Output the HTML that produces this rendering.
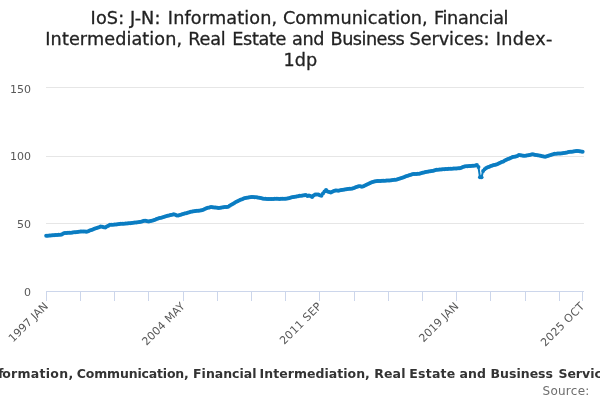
<!DOCTYPE html>
<html><head><meta charset="utf-8"><title>IoS: J-N chart</title>
<style>
html,body{margin:0;padding:0;background:#fff;}
body{width:600px;height:400px;overflow:hidden;}
svg{display:block;will-change:transform;font-family:"DejaVu Sans","Liberation Sans",Verdana,sans-serif;}
</style></head><body>
<svg width="600" height="400" viewBox="0 0 600 400">
<rect x="0" y="0" width="600" height="400" fill="#ffffff"/>
<g stroke="#e6e6e6" stroke-width="1" fill="none">
<path d="M 46 87.5 L 584 87.5"/><path d="M 46 156.5 L 584 156.5"/><path d="M 46 223.5 L 584 223.5"/><path d="M 46 291.5 L 584 291.5"/>
</g>
<g stroke="#ccd6eb" stroke-width="1" fill="none">
<path d="M 46 291.5 L 584 291.5"/><path d="M 46.5 291.5 L 46.5 301"/><path d="M 80.5 291.5 L 80.5 301"/><path d="M 114.5 291.5 L 114.5 301"/><path d="M 148.5 291.5 L 148.5 301"/><path d="M 183.5 291.5 L 183.5 301"/><path d="M 217.5 291.5 L 217.5 301"/><path d="M 251.5 291.5 L 251.5 301"/><path d="M 285.5 291.5 L 285.5 301"/><path d="M 319.5 291.5 L 319.5 301"/><path d="M 354.5 291.5 L 354.5 301"/><path d="M 388.5 291.5 L 388.5 301"/><path d="M 422.5 291.5 L 422.5 301"/><path d="M 456.5 291.5 L 456.5 301"/><path d="M 490.5 291.5 L 490.5 301"/><path d="M 525.5 291.5 L 525.5 301"/><path d="M 559.5 291.5 L 559.5 301"/><path d="M 582.5 291.5 L 582.5 301"/>
</g>
<path d="M 46.20 235.79 L 47.75 235.67 L 49.31 235.55 L 50.86 235.44 L 52.42 235.32 L 53.97 235.20 L 55.53 235.09 L 57.08 234.97 L 58.64 234.83 L 60.19 234.65 L 61.75 234.38 L 63.30 233.60 L 64.86 232.98 L 66.41 232.90 L 67.97 232.82 L 69.52 232.73 L 71.08 232.65 L 72.63 232.52 L 74.19 232.34 L 75.74 232.15 L 77.30 231.96 L 78.85 231.78 L 80.41 231.59 L 81.96 231.40 L 83.52 231.50 L 85.07 231.60 L 86.62 231.70 L 88.18 231.16 L 89.73 230.60 L 91.29 230.02 L 92.84 229.44 L 94.40 228.86 L 95.95 228.28 L 97.51 227.70 L 99.06 227.13 L 100.62 226.55 L 102.17 226.63 L 103.73 227.22 L 105.28 227.53 L 106.84 226.60 L 108.39 225.66 L 109.95 224.73 L 111.50 224.75 L 113.06 224.79 L 114.61 224.62 L 116.17 224.42 L 117.72 224.21 L 119.28 224.00 L 120.83 223.85 L 122.39 223.76 L 123.94 223.66 L 125.49 223.57 L 127.05 223.46 L 128.60 223.30 L 130.16 223.13 L 131.71 222.97 L 133.27 222.80 L 134.82 222.62 L 136.38 222.43 L 137.93 222.25 L 139.49 222.06 L 141.04 221.70 L 142.60 221.26 L 144.15 220.82 L 145.71 220.68 L 147.26 221.37 L 148.82 221.48 L 150.37 221.07 L 151.93 220.66 L 153.48 220.23 L 155.04 219.65 L 156.59 219.07 L 158.15 218.55 L 159.70 218.09 L 161.26 217.63 L 162.81 217.16 L 164.36 216.70 L 165.92 216.23 L 167.47 215.82 L 169.03 215.45 L 170.58 215.08 L 172.14 214.71 L 173.69 214.34 L 175.25 214.71 L 176.80 215.54 L 178.36 215.48 L 179.91 215.02 L 181.47 214.55 L 183.02 214.08 L 184.58 213.62 L 186.13 213.15 L 187.69 212.69 L 189.24 212.23 L 190.80 211.85 L 192.35 211.56 L 193.91 211.26 L 195.46 210.98 L 197.02 210.82 L 198.57 210.65 L 200.13 210.47 L 201.68 210.14 L 203.23 209.81 L 204.79 209.01 L 206.34 208.19 L 207.90 207.74 L 209.45 207.40 L 211.01 207.06 L 212.56 207.17 L 214.12 207.38 L 215.67 207.59 L 217.23 207.80 L 218.78 207.99 L 220.34 207.75 L 221.89 207.51 L 223.45 207.28 L 225.00 207.08 L 226.56 206.88 L 228.11 206.64 L 229.67 205.74 L 231.22 204.85 L 232.78 203.88 L 234.33 202.91 L 235.89 202.00 L 237.44 201.21 L 239.00 200.41 L 240.55 199.70 L 242.10 199.15 L 243.66 198.59 L 245.21 198.03 L 246.77 197.76 L 248.32 197.50 L 249.88 197.25 L 251.43 196.99 L 252.99 196.99 L 254.54 197.13 L 256.10 197.27 L 257.65 197.41 L 259.21 197.63 L 260.76 198.04 L 262.32 198.44 L 263.87 198.73 L 265.43 198.83 L 266.98 198.92 L 268.54 199.01 L 270.09 199.09 L 271.65 199.01 L 273.20 198.92 L 274.76 198.83 L 276.31 198.82 L 277.87 198.85 L 279.42 198.89 L 280.97 198.87 L 282.53 198.82 L 284.08 198.78 L 285.64 198.73 L 287.19 198.57 L 288.75 198.17 L 290.30 197.77 L 291.86 197.37 L 293.41 196.98 L 294.97 196.70 L 296.52 196.42 L 298.08 196.14 L 299.63 195.87 L 301.19 195.66 L 302.74 195.47 L 304.30 195.29 L 305.85 195.10 L 307.41 196.10 L 308.96 195.52 L 310.52 195.96 L 312.07 197.00 L 313.63 195.46 L 315.18 194.57 L 316.74 194.45 L 318.29 194.52 L 319.84 195.14 L 321.40 195.70 L 322.95 193.39 L 324.51 191.59 L 326.06 190.10 L 327.62 191.45 L 329.17 192.01 L 330.73 192.43 L 332.28 191.83 L 333.84 191.10 L 335.39 190.52 L 336.95 190.44 L 338.50 190.67 L 340.06 190.36 L 341.61 189.97 L 343.17 189.64 L 344.72 189.42 L 346.28 189.21 L 347.83 189.00 L 349.39 188.79 L 350.94 188.68 L 352.50 188.56 L 354.05 188.11 L 355.61 187.30 L 357.16 186.71 L 358.71 186.20 L 360.27 186.25 L 361.82 186.65 L 363.38 186.15 L 364.93 185.53 L 366.49 184.85 L 368.04 184.06 L 369.60 183.26 L 371.15 182.56 L 372.71 182.09 L 374.26 181.62 L 375.82 181.16 L 377.37 181.04 L 378.93 180.97 L 380.48 180.90 L 382.04 180.83 L 383.59 180.76 L 385.15 180.69 L 386.70 180.62 L 388.26 180.55 L 389.81 180.44 L 391.37 180.24 L 392.92 180.04 L 394.48 179.84 L 396.03 179.64 L 397.58 179.14 L 399.14 178.64 L 400.69 178.14 L 402.25 177.64 L 403.80 177.13 L 405.36 176.61 L 406.91 176.10 L 408.47 175.58 L 410.02 175.04 L 411.58 174.50 L 413.13 174.08 L 414.69 174.01 L 416.24 173.94 L 417.80 173.87 L 419.35 173.78 L 420.91 173.32 L 422.46 172.86 L 424.02 172.39 L 425.57 171.93 L 427.13 171.67 L 428.68 171.48 L 430.24 171.29 L 431.79 171.11 L 433.35 170.77 L 434.90 170.20 L 436.45 169.77 L 438.01 169.65 L 439.56 169.53 L 441.12 169.42 L 442.67 169.30 L 444.23 169.18 L 445.78 169.07 L 447.34 168.95 L 448.89 168.83 L 450.45 168.75 L 452.00 168.68 L 453.56 168.61 L 455.11 168.54 L 456.67 168.44 L 458.22 168.31 L 459.78 168.18 L 461.33 167.79 L 462.89 167.04 L 464.44 166.46 L 466.00 166.31 L 467.55 166.17 L 469.11 166.02 L 470.66 165.93 L 472.22 165.85 L 473.77 165.76 L 475.32 165.40 L 476.88 165.00 L 478.43 167.00 L 479.99 177.20 L 481.54 177.20 L 483.10 171.00 L 484.65 169.30 L 486.21 168.10 L 487.76 167.30 L 489.32 166.70 L 490.87 166.04 L 492.43 165.56 L 493.98 165.10 L 495.54 164.64 L 497.09 164.13 L 498.65 163.47 L 500.20 162.81 L 501.76 162.10 L 503.31 161.39 L 504.87 160.57 L 506.42 159.75 L 507.98 159.06 L 509.53 158.40 L 511.09 157.74 L 512.64 157.08 L 514.19 156.72 L 515.75 156.58 L 517.30 156.08 L 518.86 155.12 L 520.41 155.31 L 521.97 155.50 L 523.52 155.64 L 525.08 155.78 L 526.63 155.53 L 528.19 155.22 L 529.74 154.91 L 531.30 154.59 L 532.85 154.33 L 534.41 154.64 L 535.96 154.95 L 537.52 155.25 L 539.07 155.53 L 540.63 155.85 L 542.18 156.22 L 543.74 156.60 L 545.29 156.81 L 546.85 156.31 L 548.40 155.81 L 549.96 155.31 L 551.51 154.82 L 553.06 154.32 L 554.62 153.82 L 556.17 153.64 L 557.73 153.56 L 559.28 153.48 L 560.84 153.40 L 562.39 153.25 L 563.95 153.10 L 565.50 152.87 L 567.06 152.46 L 568.61 152.05 L 570.17 151.81 L 571.72 151.65 L 573.28 151.50 L 574.83 151.23 L 576.39 150.96 L 577.94 151.05 L 579.50 151.24 L 581.05 151.46 L 582.61 151.70" fill="none" stroke="#0b7dc2" stroke-width="2.0" stroke-linejoin="round" stroke-linecap="round"/>
<g fill="#0b7dc2"><circle cx="46.20" cy="235.79" r="2.0"/><circle cx="47.75" cy="235.67" r="2.0"/><circle cx="49.31" cy="235.55" r="2.0"/><circle cx="50.86" cy="235.44" r="2.0"/><circle cx="52.42" cy="235.32" r="2.0"/><circle cx="53.97" cy="235.20" r="2.0"/><circle cx="55.53" cy="235.09" r="2.0"/><circle cx="57.08" cy="234.97" r="2.0"/><circle cx="58.64" cy="234.83" r="2.0"/><circle cx="60.19" cy="234.65" r="2.0"/><circle cx="61.75" cy="234.38" r="2.0"/><circle cx="63.30" cy="233.60" r="2.0"/><circle cx="64.86" cy="232.98" r="2.0"/><circle cx="66.41" cy="232.90" r="2.0"/><circle cx="67.97" cy="232.82" r="2.0"/><circle cx="69.52" cy="232.73" r="2.0"/><circle cx="71.08" cy="232.65" r="2.0"/><circle cx="72.63" cy="232.52" r="2.0"/><circle cx="74.19" cy="232.34" r="2.0"/><circle cx="75.74" cy="232.15" r="2.0"/><circle cx="77.30" cy="231.96" r="2.0"/><circle cx="78.85" cy="231.78" r="2.0"/><circle cx="80.41" cy="231.59" r="2.0"/><circle cx="81.96" cy="231.40" r="2.0"/><circle cx="83.52" cy="231.50" r="2.0"/><circle cx="85.07" cy="231.60" r="2.0"/><circle cx="86.62" cy="231.70" r="2.0"/><circle cx="88.18" cy="231.16" r="2.0"/><circle cx="89.73" cy="230.60" r="2.0"/><circle cx="91.29" cy="230.02" r="2.0"/><circle cx="92.84" cy="229.44" r="2.0"/><circle cx="94.40" cy="228.86" r="2.0"/><circle cx="95.95" cy="228.28" r="2.0"/><circle cx="97.51" cy="227.70" r="2.0"/><circle cx="99.06" cy="227.13" r="2.0"/><circle cx="100.62" cy="226.55" r="2.0"/><circle cx="102.17" cy="226.63" r="2.0"/><circle cx="103.73" cy="227.22" r="2.0"/><circle cx="105.28" cy="227.53" r="2.0"/><circle cx="106.84" cy="226.60" r="2.0"/><circle cx="108.39" cy="225.66" r="2.0"/><circle cx="109.95" cy="224.73" r="2.0"/><circle cx="111.50" cy="224.75" r="2.0"/><circle cx="113.06" cy="224.79" r="2.0"/><circle cx="114.61" cy="224.62" r="2.0"/><circle cx="116.17" cy="224.42" r="2.0"/><circle cx="117.72" cy="224.21" r="2.0"/><circle cx="119.28" cy="224.00" r="2.0"/><circle cx="120.83" cy="223.85" r="2.0"/><circle cx="122.39" cy="223.76" r="2.0"/><circle cx="123.94" cy="223.66" r="2.0"/><circle cx="125.49" cy="223.57" r="2.0"/><circle cx="127.05" cy="223.46" r="2.0"/><circle cx="128.60" cy="223.30" r="2.0"/><circle cx="130.16" cy="223.13" r="2.0"/><circle cx="131.71" cy="222.97" r="2.0"/><circle cx="133.27" cy="222.80" r="2.0"/><circle cx="134.82" cy="222.62" r="2.0"/><circle cx="136.38" cy="222.43" r="2.0"/><circle cx="137.93" cy="222.25" r="2.0"/><circle cx="139.49" cy="222.06" r="2.0"/><circle cx="141.04" cy="221.70" r="2.0"/><circle cx="142.60" cy="221.26" r="2.0"/><circle cx="144.15" cy="220.82" r="2.0"/><circle cx="145.71" cy="220.68" r="2.0"/><circle cx="147.26" cy="221.37" r="2.0"/><circle cx="148.82" cy="221.48" r="2.0"/><circle cx="150.37" cy="221.07" r="2.0"/><circle cx="151.93" cy="220.66" r="2.0"/><circle cx="153.48" cy="220.23" r="2.0"/><circle cx="155.04" cy="219.65" r="2.0"/><circle cx="156.59" cy="219.07" r="2.0"/><circle cx="158.15" cy="218.55" r="2.0"/><circle cx="159.70" cy="218.09" r="2.0"/><circle cx="161.26" cy="217.63" r="2.0"/><circle cx="162.81" cy="217.16" r="2.0"/><circle cx="164.36" cy="216.70" r="2.0"/><circle cx="165.92" cy="216.23" r="2.0"/><circle cx="167.47" cy="215.82" r="2.0"/><circle cx="169.03" cy="215.45" r="2.0"/><circle cx="170.58" cy="215.08" r="2.0"/><circle cx="172.14" cy="214.71" r="2.0"/><circle cx="173.69" cy="214.34" r="2.0"/><circle cx="175.25" cy="214.71" r="2.0"/><circle cx="176.80" cy="215.54" r="2.0"/><circle cx="178.36" cy="215.48" r="2.0"/><circle cx="179.91" cy="215.02" r="2.0"/><circle cx="181.47" cy="214.55" r="2.0"/><circle cx="183.02" cy="214.08" r="2.0"/><circle cx="184.58" cy="213.62" r="2.0"/><circle cx="186.13" cy="213.15" r="2.0"/><circle cx="187.69" cy="212.69" r="2.0"/><circle cx="189.24" cy="212.23" r="2.0"/><circle cx="190.80" cy="211.85" r="2.0"/><circle cx="192.35" cy="211.56" r="2.0"/><circle cx="193.91" cy="211.26" r="2.0"/><circle cx="195.46" cy="210.98" r="2.0"/><circle cx="197.02" cy="210.82" r="2.0"/><circle cx="198.57" cy="210.65" r="2.0"/><circle cx="200.13" cy="210.47" r="2.0"/><circle cx="201.68" cy="210.14" r="2.0"/><circle cx="203.23" cy="209.81" r="2.0"/><circle cx="204.79" cy="209.01" r="2.0"/><circle cx="206.34" cy="208.19" r="2.0"/><circle cx="207.90" cy="207.74" r="2.0"/><circle cx="209.45" cy="207.40" r="2.0"/><circle cx="211.01" cy="207.06" r="2.0"/><circle cx="212.56" cy="207.17" r="2.0"/><circle cx="214.12" cy="207.38" r="2.0"/><circle cx="215.67" cy="207.59" r="2.0"/><circle cx="217.23" cy="207.80" r="2.0"/><circle cx="218.78" cy="207.99" r="2.0"/><circle cx="220.34" cy="207.75" r="2.0"/><circle cx="221.89" cy="207.51" r="2.0"/><circle cx="223.45" cy="207.28" r="2.0"/><circle cx="225.00" cy="207.08" r="2.0"/><circle cx="226.56" cy="206.88" r="2.0"/><circle cx="228.11" cy="206.64" r="2.0"/><circle cx="229.67" cy="205.74" r="2.0"/><circle cx="231.22" cy="204.85" r="2.0"/><circle cx="232.78" cy="203.88" r="2.0"/><circle cx="234.33" cy="202.91" r="2.0"/><circle cx="235.89" cy="202.00" r="2.0"/><circle cx="237.44" cy="201.21" r="2.0"/><circle cx="239.00" cy="200.41" r="2.0"/><circle cx="240.55" cy="199.70" r="2.0"/><circle cx="242.10" cy="199.15" r="2.0"/><circle cx="243.66" cy="198.59" r="2.0"/><circle cx="245.21" cy="198.03" r="2.0"/><circle cx="246.77" cy="197.76" r="2.0"/><circle cx="248.32" cy="197.50" r="2.0"/><circle cx="249.88" cy="197.25" r="2.0"/><circle cx="251.43" cy="196.99" r="2.0"/><circle cx="252.99" cy="196.99" r="2.0"/><circle cx="254.54" cy="197.13" r="2.0"/><circle cx="256.10" cy="197.27" r="2.0"/><circle cx="257.65" cy="197.41" r="2.0"/><circle cx="259.21" cy="197.63" r="2.0"/><circle cx="260.76" cy="198.04" r="2.0"/><circle cx="262.32" cy="198.44" r="2.0"/><circle cx="263.87" cy="198.73" r="2.0"/><circle cx="265.43" cy="198.83" r="2.0"/><circle cx="266.98" cy="198.92" r="2.0"/><circle cx="268.54" cy="199.01" r="2.0"/><circle cx="270.09" cy="199.09" r="2.0"/><circle cx="271.65" cy="199.01" r="2.0"/><circle cx="273.20" cy="198.92" r="2.0"/><circle cx="274.76" cy="198.83" r="2.0"/><circle cx="276.31" cy="198.82" r="2.0"/><circle cx="277.87" cy="198.85" r="2.0"/><circle cx="279.42" cy="198.89" r="2.0"/><circle cx="280.97" cy="198.87" r="2.0"/><circle cx="282.53" cy="198.82" r="2.0"/><circle cx="284.08" cy="198.78" r="2.0"/><circle cx="285.64" cy="198.73" r="2.0"/><circle cx="287.19" cy="198.57" r="2.0"/><circle cx="288.75" cy="198.17" r="2.0"/><circle cx="290.30" cy="197.77" r="2.0"/><circle cx="291.86" cy="197.37" r="2.0"/><circle cx="293.41" cy="196.98" r="2.0"/><circle cx="294.97" cy="196.70" r="2.0"/><circle cx="296.52" cy="196.42" r="2.0"/><circle cx="298.08" cy="196.14" r="2.0"/><circle cx="299.63" cy="195.87" r="2.0"/><circle cx="301.19" cy="195.66" r="2.0"/><circle cx="302.74" cy="195.47" r="2.0"/><circle cx="304.30" cy="195.29" r="2.0"/><circle cx="305.85" cy="195.10" r="2.0"/><circle cx="307.41" cy="196.10" r="2.0"/><circle cx="308.96" cy="195.52" r="2.0"/><circle cx="310.52" cy="195.96" r="2.0"/><circle cx="312.07" cy="197.00" r="2.0"/><circle cx="313.63" cy="195.46" r="2.0"/><circle cx="315.18" cy="194.57" r="2.0"/><circle cx="316.74" cy="194.45" r="2.0"/><circle cx="318.29" cy="194.52" r="2.0"/><circle cx="319.84" cy="195.14" r="2.0"/><circle cx="321.40" cy="195.70" r="2.0"/><circle cx="322.95" cy="193.39" r="2.0"/><circle cx="324.51" cy="191.59" r="2.0"/><circle cx="326.06" cy="190.10" r="2.0"/><circle cx="327.62" cy="191.45" r="2.0"/><circle cx="329.17" cy="192.01" r="2.0"/><circle cx="330.73" cy="192.43" r="2.0"/><circle cx="332.28" cy="191.83" r="2.0"/><circle cx="333.84" cy="191.10" r="2.0"/><circle cx="335.39" cy="190.52" r="2.0"/><circle cx="336.95" cy="190.44" r="2.0"/><circle cx="338.50" cy="190.67" r="2.0"/><circle cx="340.06" cy="190.36" r="2.0"/><circle cx="341.61" cy="189.97" r="2.0"/><circle cx="343.17" cy="189.64" r="2.0"/><circle cx="344.72" cy="189.42" r="2.0"/><circle cx="346.28" cy="189.21" r="2.0"/><circle cx="347.83" cy="189.00" r="2.0"/><circle cx="349.39" cy="188.79" r="2.0"/><circle cx="350.94" cy="188.68" r="2.0"/><circle cx="352.50" cy="188.56" r="2.0"/><circle cx="354.05" cy="188.11" r="2.0"/><circle cx="355.61" cy="187.30" r="2.0"/><circle cx="357.16" cy="186.71" r="2.0"/><circle cx="358.71" cy="186.20" r="2.0"/><circle cx="360.27" cy="186.25" r="2.0"/><circle cx="361.82" cy="186.65" r="2.0"/><circle cx="363.38" cy="186.15" r="2.0"/><circle cx="364.93" cy="185.53" r="2.0"/><circle cx="366.49" cy="184.85" r="2.0"/><circle cx="368.04" cy="184.06" r="2.0"/><circle cx="369.60" cy="183.26" r="2.0"/><circle cx="371.15" cy="182.56" r="2.0"/><circle cx="372.71" cy="182.09" r="2.0"/><circle cx="374.26" cy="181.62" r="2.0"/><circle cx="375.82" cy="181.16" r="2.0"/><circle cx="377.37" cy="181.04" r="2.0"/><circle cx="378.93" cy="180.97" r="2.0"/><circle cx="380.48" cy="180.90" r="2.0"/><circle cx="382.04" cy="180.83" r="2.0"/><circle cx="383.59" cy="180.76" r="2.0"/><circle cx="385.15" cy="180.69" r="2.0"/><circle cx="386.70" cy="180.62" r="2.0"/><circle cx="388.26" cy="180.55" r="2.0"/><circle cx="389.81" cy="180.44" r="2.0"/><circle cx="391.37" cy="180.24" r="2.0"/><circle cx="392.92" cy="180.04" r="2.0"/><circle cx="394.48" cy="179.84" r="2.0"/><circle cx="396.03" cy="179.64" r="2.0"/><circle cx="397.58" cy="179.14" r="2.0"/><circle cx="399.14" cy="178.64" r="2.0"/><circle cx="400.69" cy="178.14" r="2.0"/><circle cx="402.25" cy="177.64" r="2.0"/><circle cx="403.80" cy="177.13" r="2.0"/><circle cx="405.36" cy="176.61" r="2.0"/><circle cx="406.91" cy="176.10" r="2.0"/><circle cx="408.47" cy="175.58" r="2.0"/><circle cx="410.02" cy="175.04" r="2.0"/><circle cx="411.58" cy="174.50" r="2.0"/><circle cx="413.13" cy="174.08" r="2.0"/><circle cx="414.69" cy="174.01" r="2.0"/><circle cx="416.24" cy="173.94" r="2.0"/><circle cx="417.80" cy="173.87" r="2.0"/><circle cx="419.35" cy="173.78" r="2.0"/><circle cx="420.91" cy="173.32" r="2.0"/><circle cx="422.46" cy="172.86" r="2.0"/><circle cx="424.02" cy="172.39" r="2.0"/><circle cx="425.57" cy="171.93" r="2.0"/><circle cx="427.13" cy="171.67" r="2.0"/><circle cx="428.68" cy="171.48" r="2.0"/><circle cx="430.24" cy="171.29" r="2.0"/><circle cx="431.79" cy="171.11" r="2.0"/><circle cx="433.35" cy="170.77" r="2.0"/><circle cx="434.90" cy="170.20" r="2.0"/><circle cx="436.45" cy="169.77" r="2.0"/><circle cx="438.01" cy="169.65" r="2.0"/><circle cx="439.56" cy="169.53" r="2.0"/><circle cx="441.12" cy="169.42" r="2.0"/><circle cx="442.67" cy="169.30" r="2.0"/><circle cx="444.23" cy="169.18" r="2.0"/><circle cx="445.78" cy="169.07" r="2.0"/><circle cx="447.34" cy="168.95" r="2.0"/><circle cx="448.89" cy="168.83" r="2.0"/><circle cx="450.45" cy="168.75" r="2.0"/><circle cx="452.00" cy="168.68" r="2.0"/><circle cx="453.56" cy="168.61" r="2.0"/><circle cx="455.11" cy="168.54" r="2.0"/><circle cx="456.67" cy="168.44" r="2.0"/><circle cx="458.22" cy="168.31" r="2.0"/><circle cx="459.78" cy="168.18" r="2.0"/><circle cx="461.33" cy="167.79" r="2.0"/><circle cx="462.89" cy="167.04" r="2.0"/><circle cx="464.44" cy="166.46" r="2.0"/><circle cx="466.00" cy="166.31" r="2.0"/><circle cx="467.55" cy="166.17" r="2.0"/><circle cx="469.11" cy="166.02" r="2.0"/><circle cx="470.66" cy="165.93" r="2.0"/><circle cx="472.22" cy="165.85" r="2.0"/><circle cx="473.77" cy="165.76" r="2.0"/><circle cx="475.32" cy="165.40" r="2.0"/><circle cx="476.88" cy="165.00" r="2.0"/><circle cx="478.43" cy="167.00" r="2.0"/><circle cx="479.99" cy="177.20" r="2.0"/><circle cx="481.54" cy="177.20" r="2.0"/><circle cx="483.10" cy="171.00" r="2.0"/><circle cx="484.65" cy="169.30" r="2.0"/><circle cx="486.21" cy="168.10" r="2.0"/><circle cx="487.76" cy="167.30" r="2.0"/><circle cx="489.32" cy="166.70" r="2.0"/><circle cx="490.87" cy="166.04" r="2.0"/><circle cx="492.43" cy="165.56" r="2.0"/><circle cx="493.98" cy="165.10" r="2.0"/><circle cx="495.54" cy="164.64" r="2.0"/><circle cx="497.09" cy="164.13" r="2.0"/><circle cx="498.65" cy="163.47" r="2.0"/><circle cx="500.20" cy="162.81" r="2.0"/><circle cx="501.76" cy="162.10" r="2.0"/><circle cx="503.31" cy="161.39" r="2.0"/><circle cx="504.87" cy="160.57" r="2.0"/><circle cx="506.42" cy="159.75" r="2.0"/><circle cx="507.98" cy="159.06" r="2.0"/><circle cx="509.53" cy="158.40" r="2.0"/><circle cx="511.09" cy="157.74" r="2.0"/><circle cx="512.64" cy="157.08" r="2.0"/><circle cx="514.19" cy="156.72" r="2.0"/><circle cx="515.75" cy="156.58" r="2.0"/><circle cx="517.30" cy="156.08" r="2.0"/><circle cx="518.86" cy="155.12" r="2.0"/><circle cx="520.41" cy="155.31" r="2.0"/><circle cx="521.97" cy="155.50" r="2.0"/><circle cx="523.52" cy="155.64" r="2.0"/><circle cx="525.08" cy="155.78" r="2.0"/><circle cx="526.63" cy="155.53" r="2.0"/><circle cx="528.19" cy="155.22" r="2.0"/><circle cx="529.74" cy="154.91" r="2.0"/><circle cx="531.30" cy="154.59" r="2.0"/><circle cx="532.85" cy="154.33" r="2.0"/><circle cx="534.41" cy="154.64" r="2.0"/><circle cx="535.96" cy="154.95" r="2.0"/><circle cx="537.52" cy="155.25" r="2.0"/><circle cx="539.07" cy="155.53" r="2.0"/><circle cx="540.63" cy="155.85" r="2.0"/><circle cx="542.18" cy="156.22" r="2.0"/><circle cx="543.74" cy="156.60" r="2.0"/><circle cx="545.29" cy="156.81" r="2.0"/><circle cx="546.85" cy="156.31" r="2.0"/><circle cx="548.40" cy="155.81" r="2.0"/><circle cx="549.96" cy="155.31" r="2.0"/><circle cx="551.51" cy="154.82" r="2.0"/><circle cx="553.06" cy="154.32" r="2.0"/><circle cx="554.62" cy="153.82" r="2.0"/><circle cx="556.17" cy="153.64" r="2.0"/><circle cx="557.73" cy="153.56" r="2.0"/><circle cx="559.28" cy="153.48" r="2.0"/><circle cx="560.84" cy="153.40" r="2.0"/><circle cx="562.39" cy="153.25" r="2.0"/><circle cx="563.95" cy="153.10" r="2.0"/><circle cx="565.50" cy="152.87" r="2.0"/><circle cx="567.06" cy="152.46" r="2.0"/><circle cx="568.61" cy="152.05" r="2.0"/><circle cx="570.17" cy="151.81" r="2.0"/><circle cx="571.72" cy="151.65" r="2.0"/><circle cx="573.28" cy="151.50" r="2.0"/><circle cx="574.83" cy="151.23" r="2.0"/><circle cx="576.39" cy="150.96" r="2.0"/><circle cx="577.94" cy="151.05" r="2.0"/><circle cx="579.50" cy="151.24" r="2.0"/><circle cx="581.05" cy="151.46" r="2.0"/><circle cx="582.61" cy="151.70" r="2.0"/></g>
<g font-size="17.65px" fill="#222222" stroke="#222222" stroke-width="0.3">
<text class="ttl"><tspan x="90.6" y="23.8" letter-spacing="0.12">IoS: J-N: </tspan><tspan x="167.8" y="23.8" letter-spacing="0.15">Information, </tspan><tspan x="283.0" y="23.8" letter-spacing="0">Communication, </tspan><tspan x="434.0" y="23.8" letter-spacing="-0.34">Financial </tspan><tspan x="45.3" y="44.8" letter-spacing="0.1">Intermediation, </tspan><tspan x="188.3" y="44.8" letter-spacing="-0.2">Real </tspan><tspan x="232.3" y="44.8" letter-spacing="-0.35">Estate </tspan><tspan x="291.95" y="44.8" letter-spacing="-0.3">and </tspan><tspan x="330.6" y="44.8" letter-spacing="-0.51">Business </tspan><tspan x="409.5" y="44.8" letter-spacing="-0.05">Services: </tspan><tspan x="495.65" y="44.8" letter-spacing="0.35">Index-</tspan><tspan x="283.5" y="65.8" letter-spacing="0">1dp</tspan></text>
</g>
<g font-size="11px" fill="#585858" text-anchor="end">
<text x="31" y="93">150</text><text x="31" y="160">100</text><text x="31" y="228">50</text><text x="31" y="296">0</text>
</g>
<g font-size="11px" fill="#585858"><text x="48.80" y="306.9" text-anchor="end" letter-spacing="0.05" transform="rotate(-45 48.80 306.9)">1997 JAN</text><text x="185.62" y="306.9" text-anchor="end" letter-spacing="0.12" transform="rotate(-45 185.62 306.9)">2004 MAY</text><text x="322.44" y="306.9" text-anchor="end" letter-spacing="0.25" transform="rotate(-45 322.44 306.9)">2011 SEP</text><text x="459.27" y="306.9" text-anchor="end" letter-spacing="0.05" transform="rotate(-45 459.27 306.9)">2019 JAN</text><text x="585.21" y="306.9" text-anchor="end" letter-spacing="0.25" transform="rotate(-45 585.21 306.9)">2025 OCT</text></g>
<text class="leg" font-size="12.5px" font-weight="bold" fill="#333333"><tspan x="-76.8" y="377.5">IoS: J-N: In</tspan><tspan x="-2.0" y="377.5" letter-spacing="0">f</tspan><tspan x="2.2" y="377.5" letter-spacing="0.28">ormation, </tspan><tspan x="76.8" y="377.5" letter-spacing="-0.17">Communication, </tspan><tspan x="193.07" y="377.5" letter-spacing="0">Financial </tspan><tspan x="259.6" y="377.5" letter-spacing="0.03">Intermediation, </tspan><tspan x="374.3" y="377.5" letter-spacing="0.1">Real </tspan><tspan x="409.2" y="377.5" letter-spacing="0.25">Estate </tspan><tspan x="459.5" y="377.5" letter-spacing="0.1">and </tspan><tspan x="490.6" y="377.5" letter-spacing="0">Business </tspan><tspan x="558.4" y="377.5" letter-spacing="0">Services: Index-1dp</tspan></text>
<text x="542.5" y="395" font-size="12px" fill="#6e6e6e" letter-spacing="0.26">Source: </text>
</svg>
</body></html>
